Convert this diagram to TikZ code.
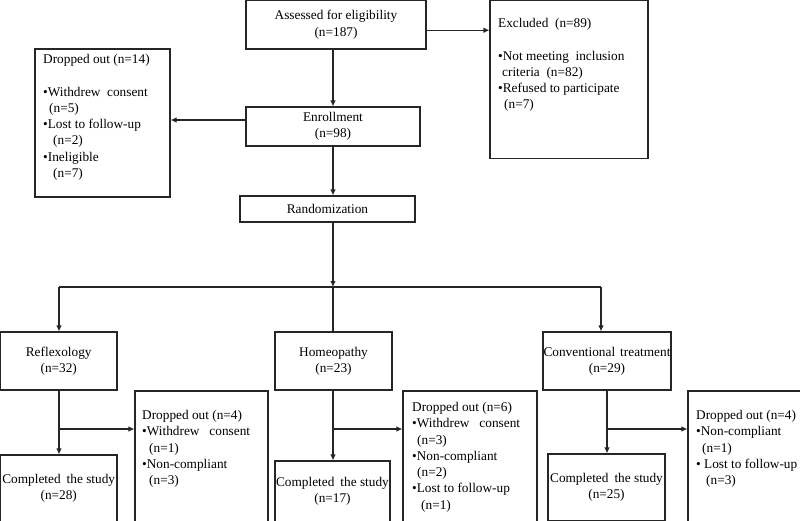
\documentclass[tikz,border=0pt]{standalone}
\usepackage{fontspec}
\setmainfont{Liberation Serif}
\usetikzlibrary{arrows.meta}
\newcommand\diagfont{\fontsize{13.3}{16.3}\selectfont}
\begin{document}
\begin{tikzpicture}[x=1pt,y=-1pt,
  box/.style={draw=black!85, line width=1.1pt, inner sep=0pt, align=center, font=\diagfont},
  txt/.style={inner sep=0pt, anchor=north west, align=left, font=\diagfont},
  arr/.style={draw=black!85, line width=1.1pt, -{Latex[length=6pt,width=5.5pt]}},
  ln/.style={draw=black!85, line width=1.1pt}]
\useasboundingbox (0,0) rectangle (800,520);
\clip (0,0) rectangle (800,520);
\fill[white] (0,0) rectangle (800,520);

% boxes
\node[box, minimum width=180pt, minimum height=48.5pt] (assess) at (336,24.75) {Assessed for eligibility\\(n=187)};
\node[box, minimum width=158pt, minimum height=158pt] (excl) at (569,79.5) {};
\node[box, minimum width=135pt, minimum height=148pt] (drop14) at (102.5,123) {};
\node[box, minimum width=174pt, minimum height=39pt] (enroll) at (333,126.5) {Enrollment\\(n=98)};
\node[box, minimum width=175pt, minimum height=26pt] (rand) at (327.5,209) {Randomization};
\node[box, minimum width=116.5pt, minimum height=58pt] (reflex) at (58.75,361) {Reflexology\\(n=32)};
\node[box, minimum width=117pt, minimum height=58pt] (homeo) at (333.5,361) {Homeopathy\\(n=23)};
\node[box, minimum width=128pt, minimum height=58pt] (conv) at (607,361) {Conventional\hspace{5pt}treatment\\(n=29)};
\node[box, minimum width=116.5pt, minimum height=67pt] (comp1) at (58.75,488.5) {Completed\hspace{6pt}the study\\(n=28)};
\node[box, minimum width=115pt, minimum height=61pt] (comp2) at (332.5,491.5) {Completed\hspace{6pt}the study\\(n=17)};
\node[box, minimum width=117pt, minimum height=67pt] (comp3) at (606.5,487.5) {Completed\hspace{6pt}the study\\(n=25)};
\node[box, minimum width=133pt, minimum height=138pt] (drop4a) at (201.5,460) {};
\node[box, minimum width=134pt, minimum height=138pt] (drop6) at (470,460) {};
\node[box, minimum width=117pt, minimum height=138pt] (drop4b) at (746.5,460) {};

% box texts
\node[txt] (excltxt) at (498,18) {Excluded\ \ (n=89)\\[16.3pt]
  •Not meeting\ \ inclusion\\
  \hspace{4pt}criteria\ \ (n=82)\\
  •Refused to participate\\
  \hspace{6pt}(n=7)};
\node[txt] (drop14txt) at (43,54) {Dropped out (n=14)\\[16.3pt]
  •Withdrew\ \ consent\\
  \hspace{6pt}(n=5)\\
  •Lost to follow-up\\
  \hspace{10pt}(n=2)\\
  •Ineligible\\
  \hspace{10pt}(n=7)};
\node[txt] (drop4atxt) at (142,410) {Dropped out (n=4)\\
  •Withdrew\ \ \ consent\\
  \hspace{7pt}(n=1)\\
  •Non-compliant\\
  \hspace{7pt}(n=3)};
\node[txt] (drop6txt) at (412,402) {Dropped out (n=6)\\
  •Withdrew\ \ \ consent\\
  \hspace{5pt}(n=3)\\
  •Non-compliant\\
  \hspace{5pt}(n=2)\\
  •Lost to follow-up\\
  \hspace{9pt}(n=1)};
\node[txt] (drop4btxt) at (696,410) {Dropped out (n=4)\\
  •Non-compliant\\
  \hspace{6pt}(n=1)\\
  • Lost to follow-up\\
  \hspace{10pt}(n=3)};

% connectors
\draw[arr] ([yshift=-5.5pt]assess.east) -- ([yshift=-5.5pt]assess.east -| excl.west);
\draw[arr] (enroll.north |- assess.south) -- (enroll.north);
\draw[arr] ([yshift=6.5pt]enroll.west) -- ([yshift=6.5pt]enroll.west -| drop14.east);
\draw[arr] (enroll.south) -- (enroll.south |- rand.north);

\coordinate (j) at (333,287);
\coordinate (jl) at (59,287);
\coordinate (jr) at (601,287);
\draw[arr] (j |- rand.south) -- (j);
\draw[ln] (jl) -- (jr);
\draw[arr] (jl) -- (jl |- reflex.north);
\draw[arr] (jr) -- (jr |- conv.north);
\draw[ln] (j) -- (j |- homeo.north);

\coordinate (b1) at (59,429);
\coordinate (b2) at (333,429);
\coordinate (b3) at (607,429);
\draw[arr] (b1 |- reflex.south) -- (b1 |- comp1.north);
\draw[arr] (b1) -- (b1 -| drop4a.west);
\draw[arr] (b2 |- homeo.south) -- (b2 |- comp2.north);
\draw[arr] (b2) -- (b2 -| drop6.west);
\draw[arr] (b3 |- conv.south) -- (b3 |- comp3.north);
\draw[arr] (b3) -- (b3 -| drop4b.west);
\end{tikzpicture}
\end{document}
